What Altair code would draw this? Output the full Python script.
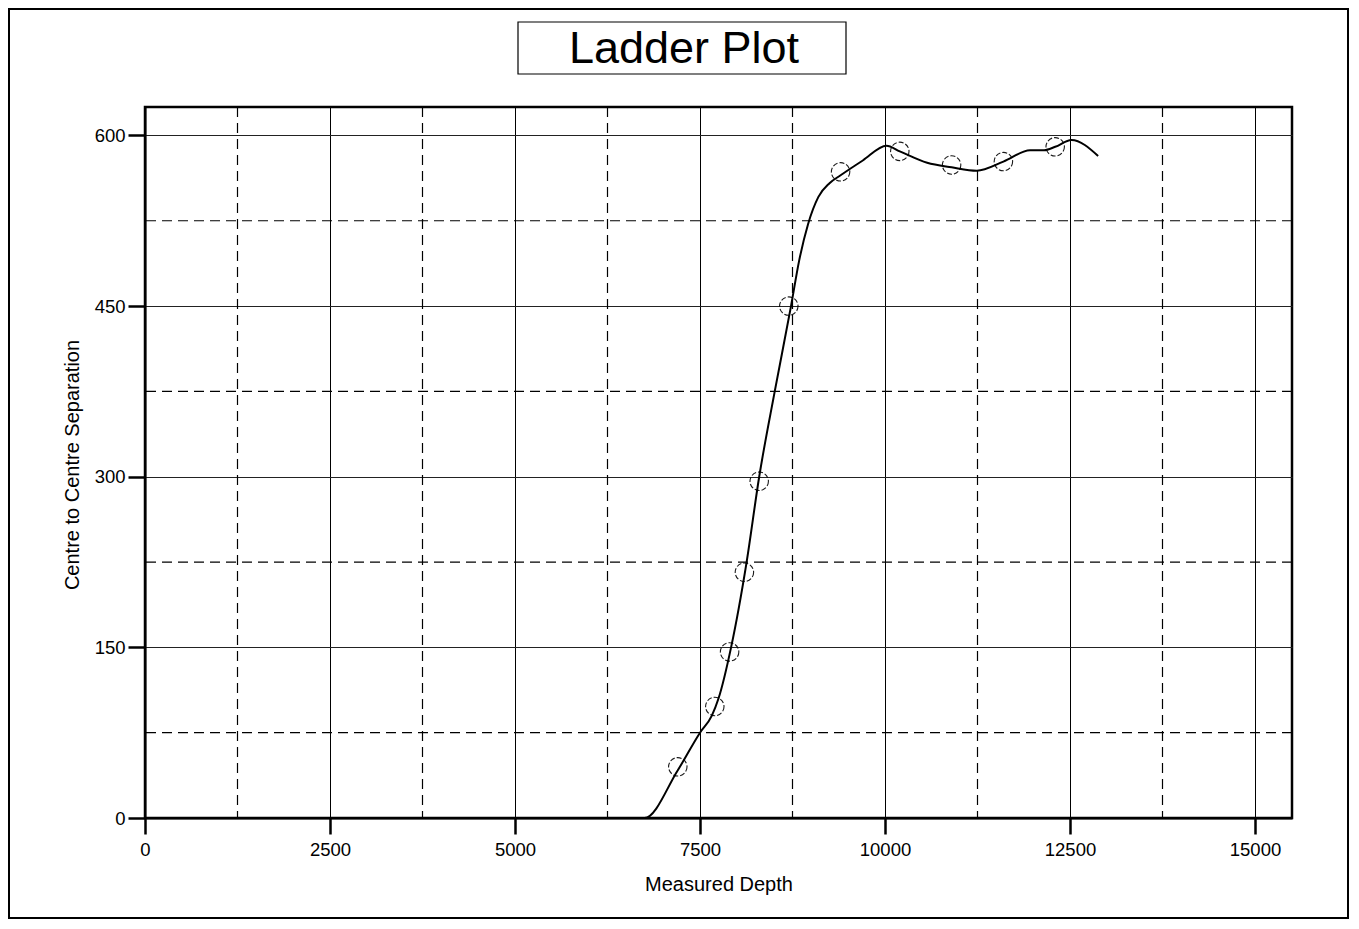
import altair as alt
import pandas as pd

# ---- data ----
chart_title = "Ladder Plot"
x_title = "Measured Depth"
y_title = "Centre to Centre Separation"

curve_md = [0, 6750, 7200, 7500, 7660, 7750, 7920, 8130, 8300, 8510, 8730, 8840,
            8960, 9100, 9250, 9400, 9700, 10020, 10200, 10570, 10900, 11240, 11600,
            11960, 12150, 12300, 12520, 12880]
curve_sep = [0, 0, 42, 75, 90, 105, 150, 225, 300, 375, 450, 490,
             522, 546, 558, 565, 578, 591, 586, 576, 572, 569, 577,
             587, 587, 590, 596, 582]

pt_md = [7200, 7700, 7900, 8100, 8300, 8700, 9400, 10200, 10900, 11600, 12300]
pt_sep = [45, 98, 146, 216, 296, 450, 568, 586, 574, 577, 590]

x_major = [0, 2500, 5000, 7500, 10000, 12500, 15000]
x_minor = [1250, 3750, 6250, 8750, 11250, 13750]
y_major = [0, 150, 300, 450, 600]
y_minor = [75, 225, 375, 525]

X_DOMAIN = [0, 15500]
Y_DOMAIN = [0, 625]

W, H = 1147, 711
FONT = "Liberation Sans"

curve = pd.DataFrame({"md": curve_md, "sep": curve_sep})
pts = pd.DataFrame({"md": pt_md, "sep": pt_sep})
xm = pd.DataFrame({"md": x_minor})
ym = pd.DataFrame({"sep": y_minor})
one = pd.DataFrame({"t": [chart_title]})

xs = alt.Scale(domain=X_DOMAIN, nice=False, zero=False)
ys = alt.Scale(domain=Y_DOMAIN, nice=False, zero=False)

x_axis = alt.Axis(values=x_major, grid=True, gridColor="black", gridWidth=1, gridOpacity=1,
                  tickSize=16, tickWidth=2.5, tickColor="black",
                  domainColor="black", domainWidth=2,
                  labelFont=FONT, labelFontSize=18.5, labelColor="black", labelPadding=6,
                  labelFlush=False, labelOverlap=False, labelBound=False,
                  title=x_title, titleFont=FONT, titleFontSize=20, titleFontWeight="normal",
                  titleColor="black", titleX=W / 2, titleY=66, titleBaseline="middle",
                  titleAlign="center", format="d")
y_axis = alt.Axis(values=y_major, grid=True, gridColor="#222222", gridWidth=1, gridOpacity=1,
                  tickSize=17, tickWidth=2.5, tickColor="black",
                  domainColor="black", domainWidth=2,
                  labelFont=FONT, labelFontSize=18.5, labelColor="black", labelPadding=3,
                  labelFlush=False, labelOverlap=False, labelBound=False,
                  title=y_title, titleFont=FONT, titleFontSize=20, titleFontWeight="normal",
                  titleColor="black", titleX=-73, titleY=H / 2 + 2, titleAngle=-90,
                  titleBaseline="middle", titleAlign="center", format="d")

vminor = alt.Chart(xm).mark_rule(color="black", strokeWidth=1.2, strokeDash=[10, 6]).encode(
    x=alt.X("md:Q", scale=xs, axis=x_axis))
hminor = alt.Chart(ym).mark_rule(color="black", strokeWidth=1.2, strokeDash=[10, 6]).encode(
    y=alt.Y("sep:Q", scale=ys, axis=y_axis))

line = alt.Chart(curve).mark_line(color="black", strokeWidth=2, interpolate="monotone").encode(
    x=alt.X("md:Q", scale=xs, axis=x_axis),
    y=alt.Y("sep:Q", scale=ys, axis=y_axis))

points = alt.Chart(pts).mark_point(shape="circle", size=340, filled=False, color="black",
                                   strokeWidth=1.1, strokeDash=[5, 2], opacity=0.9).encode(
    x=alt.X("md:Q", scale=xs, axis=x_axis),
    y=alt.Y("sep:Q", scale=ys, axis=y_axis))

frame = alt.Chart(one).mark_rect(fill="transparent", stroke="black", strokeWidth=2).encode(
    x=alt.value(-136), x2=alt.value(1203), y=alt.value(-98), y2=alt.value(811))

tbox = alt.Chart(one).mark_rect(fill="white", stroke="black", strokeWidth=1.2).encode(
    x=alt.value(373), x2=alt.value(701), y=alt.value(-85), y2=alt.value(-33))

ttext = alt.Chart(one).mark_text(font=FONT, fontSize=45, color="black", align="center",
                                 baseline="middle").encode(
    x=alt.value(539), y=alt.value(-58), text="t:N")

chart = alt.layer(vminor, hminor, line, points, frame, tbox, ttext).properties(
    width=W, height=H,
    autosize=alt.AutoSizeParams(type="none"),
    padding={"left": 137, "top": 99, "right": 58, "bottom": 102},
    background="white",
).configure_view(stroke="black", strokeWidth=2.5)

chart.save("out.html", embed_options={"renderer": "svg", "actions": False})
